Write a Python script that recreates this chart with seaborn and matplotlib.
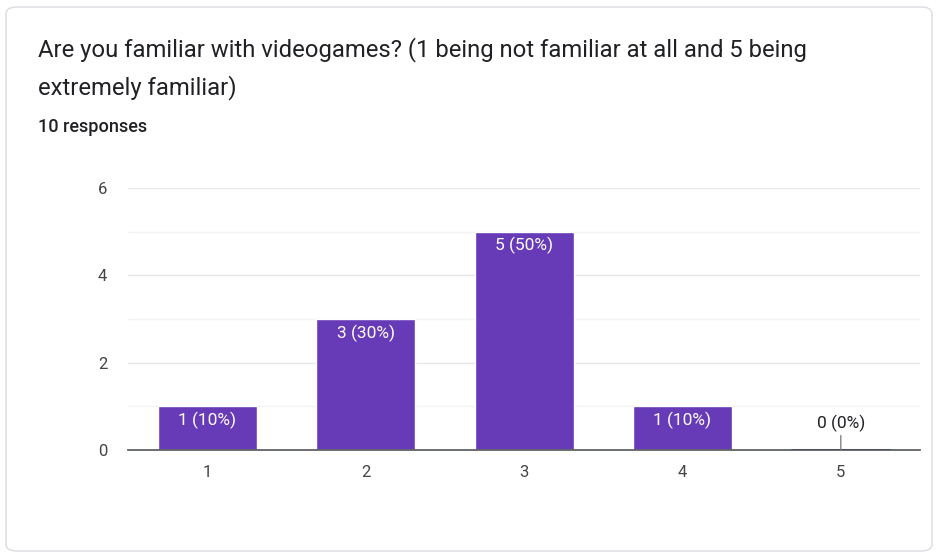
import matplotlib
matplotlib.use("Agg")
import matplotlib.pyplot as plt
from matplotlib.patches import FancyBboxPatch
import seaborn as sns
import pandas as pd

# Survey answers: rating -> number of responses
ratings = ["1", "2", "3", "4", "5"]
counts = [1, 3, 5, 1, 0]
percents = [10, 30, 50, 10, 0]
y_ticks = [0, 2, 4, 6]

title_lines = ["Are you familiar with videogames? (1 being not familiar at all and 5 being",
               "extremely familiar)"]
subtitle = "10 responses"

BAR = "#673ab7"
GRID = "#e8e8e8"
TEXT = "#202124"
TICK = "#444444"

sns.set_theme(style="white")
plt.rcParams["font.family"] = ["Roboto", "DejaVu Sans"]

df = pd.DataFrame({"rating": ratings, "count": counts})

fig = plt.figure(figsize=(9.38, 5.57), dpi=100)

# card outline
card = FancyBboxPatch((6 / 938, 6 / 557), 926 / 938, 544 / 557,
                      boxstyle="round,pad=0,rounding_size=0.012",
                      transform=fig.transFigure, facecolor="white",
                      edgecolor="#dadce0", linewidth=1.0, zorder=-1)
fig.patches.append(card)

fig.text(38 / 938, 1 - 50 / 557, title_lines[0], fontsize=17.2, color=TEXT,
         va="center", ha="left")
fig.text(38 / 938, 1 - 88 / 557, title_lines[1], fontsize=17.2, color=TEXT,
         va="center", ha="left")
fig.text(38 / 938, 1 - 127 / 557, subtitle, fontsize=13, color=TEXT,
         va="center", ha="left", fontweight="medium")

ax = fig.add_axes([128 / 938, 1 - 450 / 557, 792 / 938, 262 / 557])
ax.set_zorder(2)
ax.set_facecolor("none")
sns.barplot(data=df, x="rating", y="count", color=BAR, saturation=1,
            width=0.625, ax=ax, zorder=3)

ax.set_ylim(0, 6)
ax.set_xlim(-0.5, len(ratings) - 0.5)
ax.set_yticks(y_ticks)
ax.set_yticks([1, 3, 5], minor=True)
ax.grid(axis="y", which="major", color=GRID, linewidth=1.0, zorder=0)
ax.grid(axis="y", which="minor", color="#f3f3f3", linewidth=1.0, zorder=0)
ax.grid(axis="x", visible=False)
ax.set_axisbelow(True)
for side in ["top", "right", "left"]:
    ax.spines[side].set_visible(False)
ax.spines["bottom"].set_color("#5f6368")
ax.spines["bottom"].set_linewidth(1.3)
ax.spines["bottom"].set_zorder(4)
ax.set_xlabel("")
ax.set_ylabel("")
ax.tick_params(axis="both", which="both", length=0, labelsize=12,
               labelcolor=TICK)
ax.tick_params(axis="y", pad=15)
ax.tick_params(axis="x", pad=11)

# zero-height bars show as a thin line on the baseline
for i, c in enumerate(counts):
    if c == 0:
        ax.plot([i - 0.3125, i + 0.3125], [0, 0], color="#4a4a6a",
                linewidth=2.0, zorder=5, solid_capstyle="butt")

for i, (c, p) in enumerate(zip(counts, percents)):
    label = f"{c} ({p}%)"
    if c > 0:
        ax.annotate(label, (i, c), xytext=(0, -10), textcoords="offset points",
                    ha="center", va="center", color="white", fontsize=12.5,
                    zorder=6)
    else:
        ax.annotate(label, (i, c), xytext=(0, 19), textcoords="offset points",
                    ha="center", va="center", color=TEXT, fontsize=12.5,
                    zorder=6,
                    arrowprops=dict(arrowstyle="-", color="#777777",
                                    linewidth=0.9, shrinkA=0, shrinkB=0))

fig.savefig("out.png", dpi=100)
